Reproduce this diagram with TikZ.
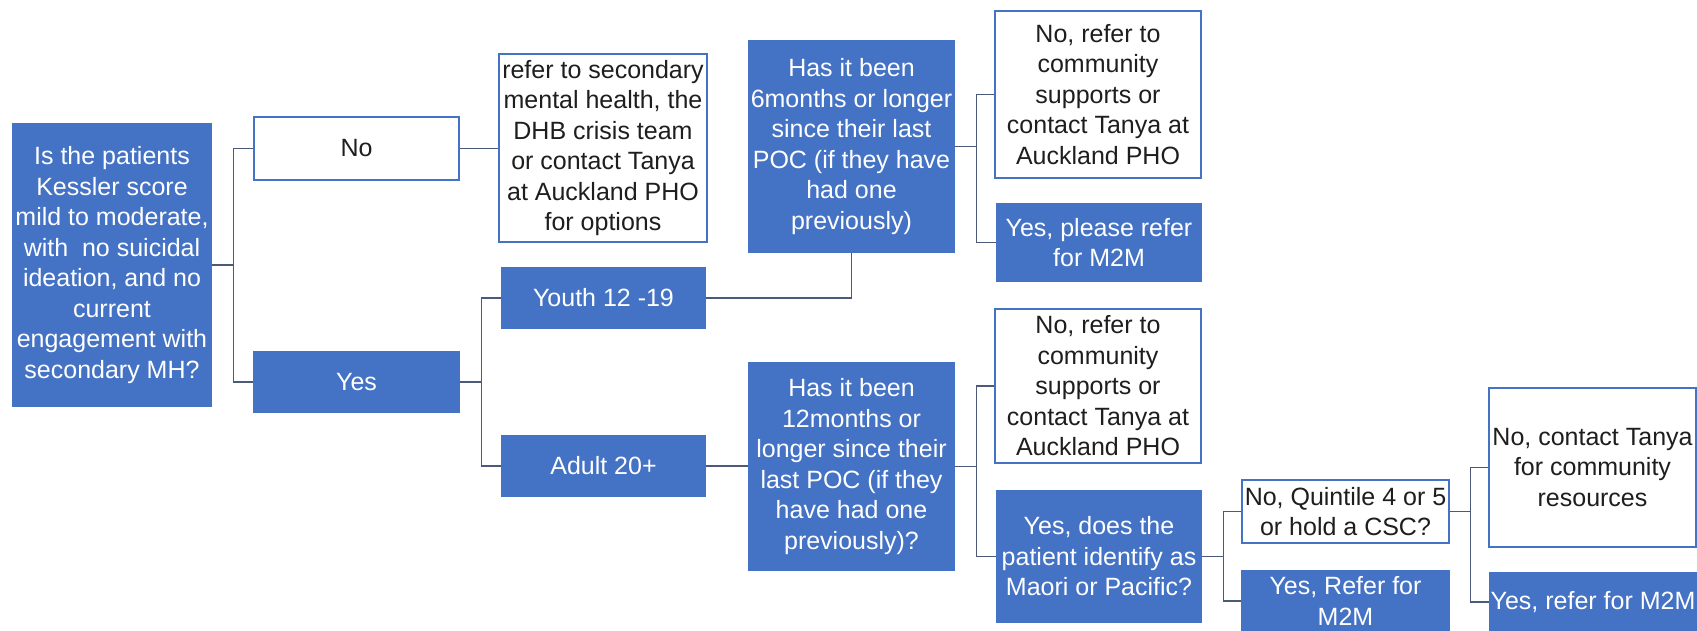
\documentclass[tikz,border=0pt]{standalone}
\usepackage{fontspec}
\setmainfont{Liberation Sans}
\definecolor{boxblue}{HTML}{4472C4}
\definecolor{linec}{HTML}{4A5A78}
\definecolor{txtdark}{HTML}{1E1E1E}
\begin{document}
\begin{tikzpicture}[x=1pt,y=-1pt,
  base/.style={rectangle, inner sep=0pt, align=center, font=\fontsize{25}{30.5}\selectfont, line width=1.3pt},
  bluebox/.style={base, fill=boxblue, draw=boxblue, text=white},
  whitebox/.style={base, fill=white, draw=boxblue, text=txtdark},
  conn/.style={draw=linec, line width=1.5pt}]
\useasboundingbox (0,0) rectangle (1697,630);
\fill[white] (0,0) rectangle (1697,630);

% level 0
\node[bluebox, minimum width=198pt, minimum height=282pt] (root) at (112,265)
  {Is the patients\\Kessler score\\mild to moderate,\\with\ \ no suicidal\\ideation, and no\\current\\engagement with\\secondary MH?};

% level 1
\node[whitebox, minimum width=205pt, minimum height=63pt] (no) at (356.5,148.5) {No};
\node[bluebox, minimum width=205pt, minimum height=60pt] (yes) at (356.5,382) {Yes};

% level 2
\node[whitebox, minimum width=208pt, minimum height=188pt] (refer) at (603,148)
  {refer to secondary\\mental health, the\\DHB crisis team\\or contact Tanya\\at Auckland PHO\\for options};
\node[bluebox, minimum width=203pt, minimum height=60pt] (youth) at (603.5,298) {Youth 12 -19};
\node[bluebox, minimum width=203pt, minimum height=60pt] (adult) at (603.5,466) {Adult 20+};

% level 3
\node[bluebox, minimum width=205pt, minimum height=211pt] (q6) at (851.5,146.5)
  {Has it been\\6months or longer\\since their last\\POC (if they have\\had one\\previously)};
\node[bluebox, minimum width=205pt, minimum height=207pt] (q12) at (851.5,466.5)
  {Has it been\\12months or\\longer since their\\last POC (if they\\have had one\\previously)?};

% level 4
\node[whitebox, minimum width=206pt, minimum height=167pt] (n6) at (1098,94.5)
  {No, refer to\\community\\supports or\\contact Tanya at\\Auckland PHO};
\node[bluebox, minimum width=204pt, minimum height=77pt] (y6) at (1099,242.5)
  {Yes, please refer\\for M2M};
\node[whitebox, minimum width=206pt, minimum height=154pt] (n12) at (1098,386)
  {No, refer to\\community\\supports or\\contact Tanya at\\Auckland PHO};
\node[bluebox, minimum width=204pt, minimum height=131pt] (ym) at (1099,556.5)
  {Yes, does the\\patient identify as\\Maori or Pacific?};

% level 5
\node[whitebox, minimum width=207pt, minimum height=63pt] (quin) at (1345.5,511.5)
  {No, Quintile 4 or 5\\or hold a CSC?};
\node[bluebox, minimum width=207pt, minimum height=60pt] (yref) at (1345.5,601)
  {Yes, Refer for\\M2M};

% level 6
\node[whitebox, minimum width=207pt, minimum height=159pt] (nct) at (1592.5,467.5)
  {No, contact Tanya\\for community\\resources};
\node[bluebox, minimum width=206pt, minimum height=58pt] (yrm) at (1593,602)
  {Yes, refer for M2M};

% connectors
\draw[conn] (root.east) -- ++(22,0) |- (no.west);
\draw[conn] (root.east) -- ++(22,0) |- (yes.west);
\draw[conn] (no.east) -- (no.east -| refer.west);
\draw[conn] (yes.east) -- ++(22,0) |- (youth.west);
\draw[conn] (yes.east) -- ++(22,0) |- (adult.west);
\draw[conn] (youth.east) -| (q6.south);
\draw[conn] (adult.east) -- (adult.east -| q12.west);
\draw[conn] (q6.east) -- ++(22,0) |- (n6.west);
\draw[conn] (q6.east) -- ++(22,0) |- (y6.west);
\draw[conn] (q12.east) -- ++(22,0) |- (n12.west);
\draw[conn] (q12.east) -- ++(22,0) |- (ym.west);
\draw[conn] (ym.east) -- ++(22,0) |- (quin.west);
\draw[conn] (ym.east) -- ++(22,0) |- (yref.west);
\draw[conn] (quin.east) -- ++(21,0) |- (nct.west);
\draw[conn] (quin.east) -- ++(21,0) |- (yrm.west);
\end{tikzpicture}
\end{document}
